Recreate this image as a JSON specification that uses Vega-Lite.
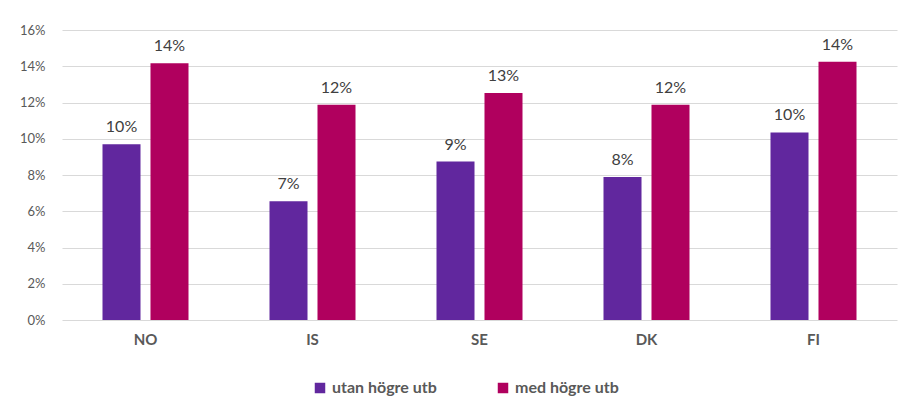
{
  "$schema": "https://vega.github.io/schema/vega-lite/v6.json",
  "width": 835,
  "height": 290,
  "autosize": {"type": "none"},
  "padding": {"left": 62, "top": 30, "right": 6, "bottom": 83},
  "background": "white",
  "data": {
    "values": [
      {"land": "NO", "grupp": "utan högre utb", "andel": 0.0969},
      {"land": "NO", "grupp": "med högre utb", "andel": 0.1416},
      {"land": "IS", "grupp": "utan högre utb", "andel": 0.0655},
      {"land": "IS", "grupp": "med högre utb", "andel": 0.1188},
      {"land": "SE", "grupp": "utan högre utb", "andel": 0.0874},
      {"land": "SE", "grupp": "med högre utb", "andel": 0.1252},
      {"land": "DK", "grupp": "utan högre utb", "andel": 0.0789},
      {"land": "DK", "grupp": "med högre utb", "andel": 0.1188},
      {"land": "FI", "grupp": "utan högre utb", "andel": 0.1035},
      {"land": "FI", "grupp": "med högre utb", "andel": 0.1425}
    ]
  },
  "encoding": {
    "x": {
      "field": "land", "type": "nominal", "sort": ["NO", "IS", "SE", "DK", "FI"],
      "scale": {"paddingInner": 0.485, "paddingOuter": 0.2425},
      "axis": {
        "title": null, "labelAngle": 0, "domain": false, "ticks": false,
        "labelFont": "Lato", "labelFontWeight": "bold", "labelFontSize": 15,
        "labelColor": "#595959", "labelPadding": 12
      }
    },
    "xOffset": {
      "field": "grupp", "type": "nominal", "sort": ["utan högre utb", "med högre utb"],
      "scale": {"paddingInner": 0.208, "paddingOuter": 0}
    },
    "y": {
      "field": "andel", "type": "quantitative",
      "scale": {"domain": [0, 0.16], "nice": false},
      "axis": {
        "title": null, "format": ".0%", "values": [0, 0.02, 0.04, 0.06, 0.08, 0.1, 0.12, 0.14, 0.16],
        "labelOverlap": false,
        "domain": false, "ticks": false, "gridColor": "#d9d9d9", "gridWidth": 1.2,
        "labelFont": "Lato", "labelFontSize": 13, "labelColor": "#595959", "labelPadding": 17
      }
    }
  },
  "layer": [
    {
      "mark": {"type": "bar"},
      "encoding": {
        "color": {
          "field": "grupp", "type": "nominal", "sort": ["utan högre utb", "med högre utb"],
          "scale": {"domain": ["utan högre utb", "med högre utb"], "range": ["#61279E", "#B0005E"]},
          "legend": {
            "title": null, "orient": "none", "direction": "horizontal",
            "legendX": 250, "legendY": 350,
            "symbolType": "square", "symbolSize": 110, "symbolStrokeWidth": 0,
            "labelFont": "Lato", "labelFontSize": 16, "labelFontWeight": "bold",
            "labelColor": "#595959", "labelOffset": 4, "columnPadding": 58
          }
        }
      }
    },
    {
      "mark": {"type": "text", "baseline": "alphabetic", "dy": -12, "font": "Lato", "fontSize": 16, "color": "#404040"},
      "encoding": {
        "text": {"field": "andel", "type": "quantitative", "format": ".0%"}
      }
    }
  ],
  "config": {
    "view": {"stroke": null}
  }
}
